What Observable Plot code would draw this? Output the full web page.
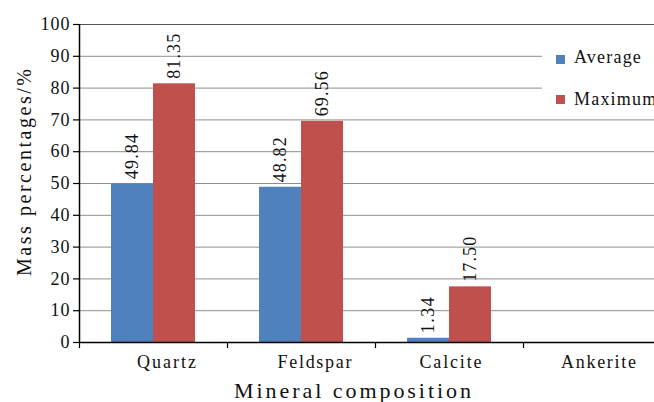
<!DOCTYPE html>
<html>
<head>
<meta charset="utf-8">
<script src="https://cdn.jsdelivr.net/npm/d3@7"></script>
<script src="https://cdn.jsdelivr.net/npm/@observablehq/plot@0.6"></script>
<style>
  html, body { margin: 0; padding: 0; background: #fff; overflow: hidden; }
  #wrap { position: relative; width: 654px; height: 402px; overflow: hidden; }
  #legend { position: absolute; left: 542px; top: 32px; width: 120px; height: 82px; background: #fff;
            font-family: "Liberation Serif", "Times New Roman", serif; font-size: 18px; letter-spacing: 1.2px; color: #111; }
  .sw { position: absolute; width: 9px; height: 9px; }
  .lt { position: absolute; left: 32px; line-height: 1; white-space: nowrap; }
</style>
</head>
<body>
<div id="wrap"><div id="chart"></div><div id="legend"></div></div>
<script>
const minerals = ["Quartz", "Feldspar", "Calcite", "Ankerite"];
const average = [49.84, 48.82, 1.34, null];
const maximum = [81.35, 69.56, 17.50, null];
const seriesNames = ["Average", "Maximum"];
const seriesColors = ["#4F81BD", "#C0504D"];
const yTicks = [0, 10, 20, 30, 40, 50, 60, 70, 80, 90, 100];
const xTitle = "Mineral composition";
const yTitle = "Mass percentages/%";

const avgData = minerals.map((m, i) => ({mineral: m, value: average[i]})).filter(d => d.value != null);
const maxData = minerals.map((m, i) => ({mineral: m, value: maximum[i]})).filter(d => d.value != null);

const serif = "'Liberation Serif', 'Times New Roman', serif";
const fmt = d3.format(".2f");

const chart = Plot.plot({
  width: 671,
  height: 402,
  marginLeft: 79,
  marginRight: 0,
  marginTop: 24,
  marginBottom: 60,
  style: {background: "white", fontFamily: serif, maxWidth: "none", overflow: "visible", color: "#111", letterSpacing: "1px"},
  x: {domain: minerals, padding: 0, axis: null},
  y: {domain: [0, 100], axis: null},
  marks: [
    Plot.gridY(yTicks.filter(t => t > 0 && t < 100), {stroke: "#8f8f8f", strokeOpacity: 1}),
    Plot.ruleY([100], {stroke: "#555", strokeWidth: 1.2}),
    Plot.barY(avgData, {x: "mineral", y: "value", fill: seriesColors[0], insetLeft: 32, insetRight: 74}),
    Plot.barY(maxData, {x: "mineral", y: "value", fill: seriesColors[1], insetLeft: 74, insetRight: 32}),
    Plot.text(avgData, {x: "mineral", y: "value", text: d => fmt(d.value), dx: -21, dy: -5, rotate: -90,
      textAnchor: "start", lineAnchor: "middle", fontSize: 18, fill: "#111"}),
    Plot.text(maxData, {x: "mineral", y: "value", text: d => fmt(d.value), dx: 21, dy: -5, rotate: -90,
      textAnchor: "start", lineAnchor: "middle", fontSize: 18, fill: "#111"}),
    Plot.ruleY([0], {stroke: "#000", strokeWidth: 1.5}),
    Plot.ruleX(minerals.slice(0, 1), {x: d => d, dx: -74, y1: 0, y2: 100, stroke: "#000", strokeWidth: 1.5}),
    Plot.axisY({ticks: yTicks, tickSize: 6, tickPadding: 3, fontSize: 18, stroke: "#000", strokeWidth: 1.2, label: null}),
    Plot.axisX({tickSize: 6, dx: -74, tickFormat: () => "", stroke: "#000", strokeWidth: 1.2, label: null}),
    Plot.axisX({ticks: minerals.slice(0, 2), tickSize: 0, tickPadding: 13, dx: 13, fontSize: 18, label: null}),
    Plot.axisX({ticks: minerals.slice(2), tickSize: 0, tickPadding: 13, dx: 1, fontSize: 18, label: null}),
    Plot.text([xTitle], {frameAnchor: "bottom", textAnchor: "middle", dx: -23, dy: 55, lineAnchor: "bottom",
      fontSize: 22, fill: "#111"}),
    Plot.text([yTitle], {frameAnchor: "left", textAnchor: "middle", rotate: -90, dx: -55, dy: -11, lineAnchor: "middle",
      fontSize: 20, fill: "#111"})
  ]
});
// stretch texts to the reference's wide letter spacing
const fit = {[xTitle]: 237, [yTitle]: 207, "Quartz": 59, "Feldspar": 74, "Calcite": 62, "Ankerite": 75};
d3.select(chart).selectAll("text").each(function() {
  const t = this.textContent;
  if (fit[t]) { d3.select(this).attr("textLength", fit[t]).style("letter-spacing", "0px"); }
  else if (/^\d+\.\d\d$/.test(t)) { d3.select(this).attr("textLength", t.length * 9).style("letter-spacing", "0px"); }
});
document.getElementById("chart").appendChild(chart);

const legend = document.getElementById("legend");
seriesNames.forEach((name, i) => {
  const sw = document.createElement("div");
  sw.className = "sw";
  sw.style.left = "14px";
  sw.style.top = (23 + i * 40) + "px";
  sw.style.background = seriesColors[i];
  legend.appendChild(sw);
  const t = document.createElement("div");
  t.className = "lt";
  t.style.top = (16 + i * 42) + "px";
  t.textContent = name;
  legend.appendChild(t);
});
</script>
</body>
</html>
